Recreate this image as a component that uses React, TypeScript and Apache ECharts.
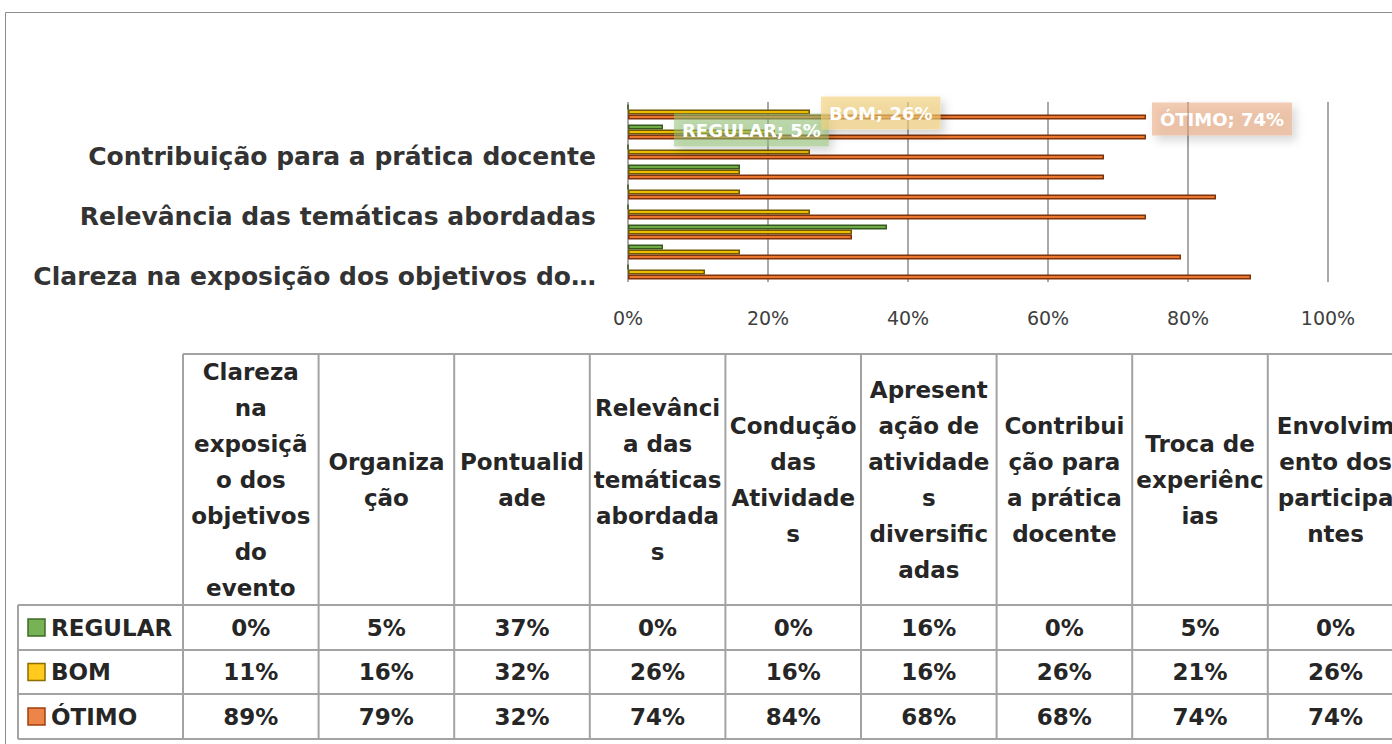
import React, { useEffect, useRef } from "react";
import * as echarts from "echarts";

const categories = [
  "Clareza na exposição dos objetivos do evento",
  "Organização",
  "Pontualidade",
  "Relevância das temáticas abordadas",
  "Condução das Atividades",
  "Apresentação de atividades diversificadas",
  "Contribuição para a prática docente",
  "Troca de experiências",
  "Envolvimento dos participantes",
];
const headerLabels = [
  "Clareza\nna\nexposiçã\no dos\nobjetivos\ndo\nevento",
  "Organiza\nção",
  "Pontualid\nade",
  "Relevânci\na das\ntemáticas\nabordada\ns",
  "Condução\ndas\nAtividade\ns",
  "Apresent\nação de\natividade\ns\ndiversific\nadas",
  "Contribui\nção para\na prática\ndocente",
  "Troca de\nexperiênc\nias",
  "Envolvim\nento dos\nparticipa\nntes",
];
const seriesNames = ["REGULAR", "BOM", "ÓTIMO"];
const regular = [0, 5, 37, 0, 0, 16, 0, 5, 0];
const bom = [11, 16, 32, 26, 16, 16, 26, 21, 26];
const otimo = [89, 79, 32, 74, 84, 68, 68, 74, 74];
const seriesValues = [regular, bom, otimo];
const labeledPoints: [string, number][] = [
  ["REGULAR", 7],
  ["BOM", 8],
  ["ÓTIMO", 8],
];

const fills = ["#6FAA47", "#F0BC00", "#E9772F"];
const borders = ["#355A1E", "#6E5800", "#7E330A"];
const keyFills = ["#77B356", "#FFCA1C", "#EE8548"];
const keyBorders = ["#3E6B25", "#8C6D00", "#A0400F"];
const labelBgs = ["rgba(150,196,120,0.55)", "rgba(244,208,118,0.62)", "rgba(234,165,122,0.55)"];

const FONT = "DejaVu Sans";

function buildTable(): any[] {
  const els: any[] = [];
  const tableLeft = 18;
  const headerLeft = 183;
  const colW = 135.6;
  const headerTop = 354;
  const headerBottom = 605;
  const rowBottoms = [650, 694, 739];
  const right = 1420;
  const stroke = { stroke: "#a3a3a3", lineWidth: 2 };
  els.push({ type: "line", shape: { x1: headerLeft, y1: headerTop, x2: right, y2: headerTop }, style: stroke });
  els.push({ type: "line", shape: { x1: tableLeft, y1: headerBottom, x2: right, y2: headerBottom }, style: stroke });
  rowBottoms.forEach((y) =>
    els.push({ type: "line", shape: { x1: tableLeft, y1: y, x2: right, y2: y }, style: stroke })
  );
  els.push({ type: "line", shape: { x1: tableLeft, y1: headerBottom, x2: tableLeft, y2: rowBottoms[2] }, style: stroke });
  for (let k = 0; k <= categories.length; k++) {
    const x = headerLeft + k * colW;
    els.push({ type: "line", shape: { x1: x, y1: headerTop, x2: x, y2: rowBottoms[2] }, style: stroke });
  }
  const txt = (text: string, x: number, y: number, align: string) => ({
    type: "text",
    style: {
      text,
      x,
      y,
      fill: "#262626",
      fontFamily: FONT,
      fontWeight: "bold",
      fontSize: 23,
      lineHeight: 36,
      align,
      verticalAlign: "middle",
      textAlign: align,
      textVerticalAlign: "middle",
    },
  });
  headerLabels.forEach((h, i) => {
    els.push(txt(h, headerLeft + colW * (i + 0.5), (headerTop + headerBottom) / 2, "center"));
  });
  const rowTops = [headerBottom, rowBottoms[0], rowBottoms[1]];
  seriesNames.forEach((name, s) => {
    const cy = (rowTops[s] + rowBottoms[s]) / 2;
    els.push({
      type: "rect",
      shape: { x: 28, y: cy - 8.5, width: 17, height: 17 },
      style: { fill: keyFills[s], stroke: keyBorders[s], lineWidth: 1.5 },
    });
    els.push(txt(name, 51, cy, "left"));
    seriesValues[s].forEach((v, i) => {
      els.push(txt(v + "%", headerLeft + colW * (i + 0.5), cy, "center"));
    });
  });
  return els;
}

export default function App() {
  const ref = useRef<HTMLDivElement>(null);
  useEffect(() => {
    if (!ref.current) return;
    const chart = echarts.init(ref.current, undefined, { renderer: "svg" });
    const series = seriesNames.map((name, s) => ({
      name,
      type: "bar",
      barWidth: 5,
      barGap: "0%",
      itemStyle: { color: fills[s], borderColor: borders[s], borderWidth: 1.5 },
      data: seriesValues[s].map((v, i) => {
        const show = labeledPoints.some(([n, idx]) => n === name && idx === i);
        return show
          ? {
              value: v,
              label: {
                show: true,
                position: "right",
                distance: name === "ÓTIMO" ? 6 : 11,
                offset: name === "ÓTIMO" ? [0, 2] : name === "REGULAR" ? [0, 3] : [0, 1],
                formatter: "{a}; {c}%",
                color: "#ffffff",
                fontFamily: FONT,
                fontWeight: "bold",
                fontSize: 18,
                backgroundColor: labelBgs[s],
                padding: [8, 8, 7, 8],
                shadowBlur: 10,
                shadowColor: "rgba(0,0,0,0.28)",
                shadowOffsetX: 4,
                shadowOffsetY: 5,
              },
            }
          : v;
      }),
    }));
    chart.setOption({
      animation: false,
      backgroundColor: "#ffffff",
      grid: { left: 628, right: 64, top: 102, bottom: 462, containLabel: false },
      xAxis: {
        type: "value",
        min: 0,
        max: 100,
        interval: 20,
        axisLine: { show: false },
        axisTick: { show: false },
        splitLine: { show: true, lineStyle: { color: "#8c8c8c", width: 1.5 } },
        axisLabel: {
          formatter: "{value}%",
          margin: 26,
          color: "#404040",
          fontFamily: FONT,
          fontSize: 19,
        },
      },
      yAxis: {
        type: "category",
        data: categories,
        axisLine: { show: false },
        axisTick: { show: false },
        axisLabel: {
          interval: 2,
          margin: 32,
          verticalAlign: "top",
          lineHeight: 9,
          color: "#333333",
          fontFamily: FONT,
          fontWeight: "bold",
          fontSize: 25,
          formatter: (v: string) => (v.length > 40 ? v.slice(0, 37) + "…" : v),
        },
      },
      series,
      graphic: [
        {
          type: "rect",
          z: -10,
          shape: { x: 5.5, y: 12.5, width: 1420, height: 745 },
          style: { fill: "none", stroke: "#8c8c8c", lineWidth: 1 },
        },
        ...buildTable(),
      ],
    });
    return () => chart.dispose();
  }, []);
  return (
    <div
      ref={ref}
      style={{ position: "absolute", left: 0, top: 0, width: 1392, height: 744 }}
    />
  );
}
